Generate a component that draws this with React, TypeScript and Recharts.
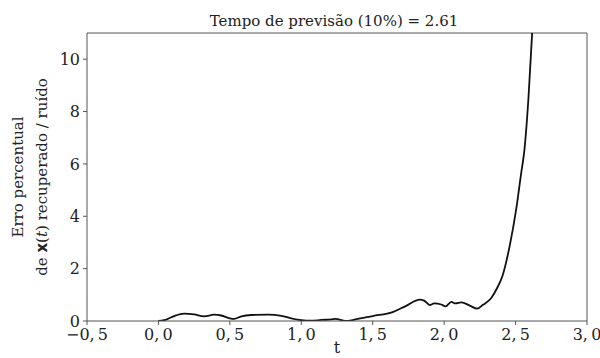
import React from 'react';
import { LineChart, Line, XAxis, YAxis, ReferenceLine } from 'recharts';

const times = [0, 0.04, 0.11, 0.18, 0.25, 0.32, 0.39, 0.44, 0.5, 0.53, 0.58, 0.65, 0.77, 0.86, 0.93, 1.0, 1.07, 1.14, 1.21, 1.24, 1.31, 1.38, 1.5, 1.64, 1.73, 1.83, 1.86, 1.9, 1.93, 1.98, 2.01, 2.05, 2.08, 2.12, 2.18, 2.23, 2.27, 2.33, 2.37, 2.41, 2.46, 2.505, 2.54, 2.56, 2.59, 2.615, 2.64];
const errors = [0, 0.03, 0.19, 0.28, 0.25, 0.18, 0.24, 0.21, 0.1, 0.08, 0.18, 0.23, 0.24, 0.2, 0.1, 0.03, 0.01, 0.04, 0.06, 0.08, 0.0, 0.06, 0.19, 0.34, 0.57, 0.82, 0.78, 0.61, 0.67, 0.63, 0.56, 0.73, 0.67, 0.71, 0.59, 0.47, 0.61, 0.88, 1.25, 1.75, 2.9, 4.29, 5.68, 6.44, 8.5, 10.9, 13.8];
const xTicks = [-0.5, 0, 0.5, 1, 1.5, 2, 2.5, 3];
const yTicks = [0, 2, 4, 6, 8, 10];
const title = 'Tempo de previsão (10%) = 2.61';

const data = times.map((t, i) => ({ t, e: errors[i] }));

const FONT = '"DejaVu Serif", serif';
const AX = '#555';
const TXT = '#222';

const fmtX = (v: number) => (v < 0 ? '\u2212' : '') + Math.abs(v).toFixed(1).replace('.', ',\u2009');

const YLabel = (props: any) => {
  const vb = props.viewBox || { x: 0, y: 33, width: 87, height: 288 };
  const cy = vb.y + vb.height / 2;
  return (
    <g fontFamily={FONT} fontSize={15} fill={TXT} style={{ fontFamily: FONT }}>
      <text x={18} y={cy} transform={`rotate(-90, 18, ${cy})`} textAnchor="middle" dominantBaseline="central">
        Erro percentual
      </text>
      <text x={42} y={cy} transform={`rotate(-90, 42, ${cy})`} textAnchor="middle" dominantBaseline="central">
        de <tspan fontWeight="bold" style={{ fontFamily: '"DejaVu Sans", sans-serif' }}>x</tspan>(<tspan fontStyle="italic">t</tspan>) recuperado / ruído
      </text>
    </g>
  );
};

const TitleLabel = (props: any) => {
  const vb = props.viewBox || { x: 87, y: 33, width: 500 };
  return (
    <text x={vb.x + vb.width / 2 - 3} y={vb.y - 7} textAnchor="middle" fontFamily={FONT} style={{ fontFamily: FONT }} fontSize={15} fill={TXT}>
      {title}
    </text>
  );
};

const XLabel = (props: any) => {
  const vb = props.viewBox || { x: 87, y: 321, width: 500, height: 37 };
  return (
    <text x={vb.x + vb.width / 2} y={vb.y + vb.height - 5} textAnchor="middle" fontFamily={FONT} style={{ fontFamily: FONT }} fontSize={16} fill={TXT}>
      t
    </text>
  );
};

const tickStyle = { fontFamily: FONT, fontSize: 16, fill: TXT, style: { fontFamily: FONT } };

export default function App() {
  return (
    <div style={{ position: 'absolute', left: 0, top: 0, width: 600, height: 358, background: '#fff', fontFamily: FONT }}>
      <LineChart width={600} height={358} data={data} margin={{ top: 33, right: 13, bottom: 0, left: 0 }} style={{ fontFamily: FONT }}>
        <XAxis
          dataKey="t"
          type="number"
          domain={[-0.5, 3]}
          ticks={xTicks}
          tickFormatter={fmtX}
          height={37}
          stroke={AX}
          tickSize={4}
          tickMargin={4}
          tick={tickStyle}
          interval={0}
          label={<XLabel />}
          allowDataOverflow
        />
        <YAxis
          type="number"
          domain={[0, 11]}
          ticks={yTicks}
          width={87}
          stroke={AX}
          tickSize={4}
          tickMargin={3}
          tick={tickStyle}
          interval={0}
          label={<YLabel />}
          allowDataOverflow
        />
        <ReferenceLine y={11} stroke={AX} strokeWidth={1} label={<TitleLabel />} />
        <ReferenceLine x={3} stroke={AX} strokeWidth={1} />
        <Line type="monotone" dataKey="e" stroke="#111" strokeWidth={1.8} dot={false} isAnimationActive={false} />
      </LineChart>
    </div>
  );
}
